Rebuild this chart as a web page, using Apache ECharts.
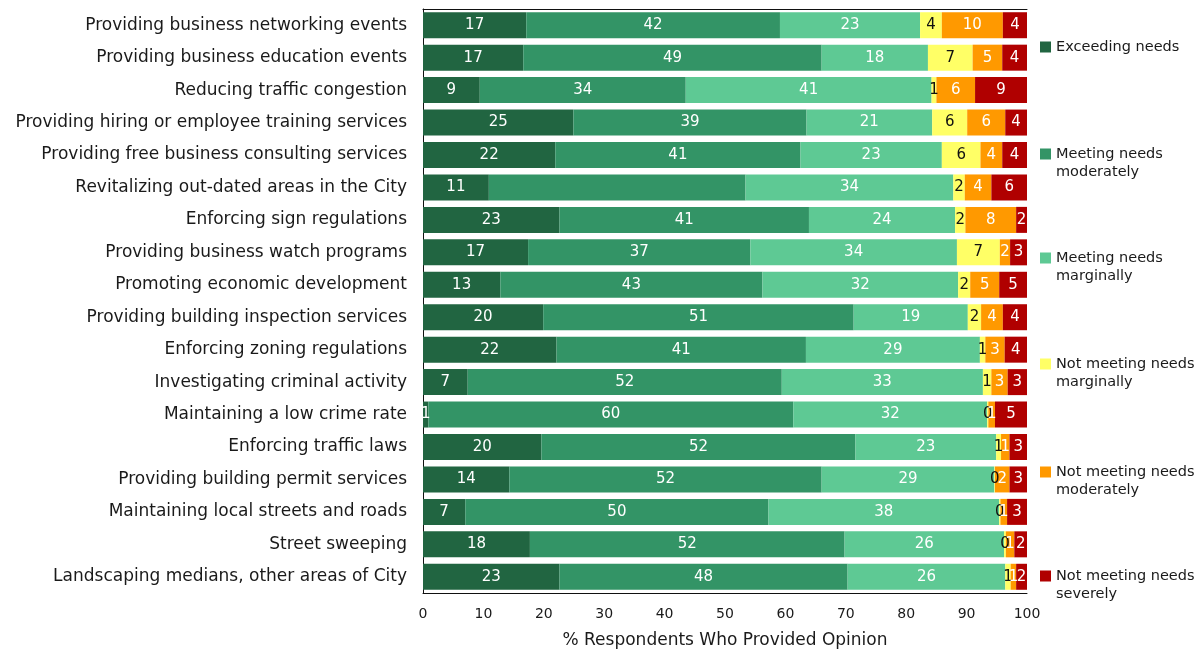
<!DOCTYPE html>
<html>
<head>
<meta charset="utf-8">
<title>City services: meeting business needs</title>
<script src="https://cdn.jsdelivr.net/npm/echarts@6/dist/echarts.min.js"></script>
<style>
  html, body { margin: 0; padding: 0; background: #ffffff; overflow: hidden; }
  #chart { width: 1203px; height: 654px; }
</style>
</head>
<body>
<div id="chart"></div>
<script>
// Services rated, listed top to bottom
const categories = [
  'Providing business networking events',
  'Providing business education events',
  'Reducing traffic congestion',
  'Providing hiring or employee training services',
  'Providing free business consulting services',
  'Revitalizing out-dated areas in the City',
  'Enforcing sign regulations',
  'Providing business watch programs',
  'Promoting economic development',
  'Providing building inspection services',
  'Enforcing zoning regulations',
  'Investigating criminal activity',
  'Maintaining a low crime rate',
  'Enforcing traffic laws',
  'Providing building permit services',
  'Maintaining local streets and roads',
  'Street sweeping',
  'Landscaping medians, other areas of City'
];

const seriesNames = [
  'Exceeding needs',
  'Meeting needs moderately',
  'Meeting needs marginally',
  'Not meeting needs marginally',
  'Not meeting needs moderately',
  'Not meeting needs severely'
];

// % of respondents who provided an opinion, per rating
const exceeding          = [17.1, 16.6,  9.4, 24.9, 21.9, 10.9, 22.6, 17.4, 12.8, 19.9, 22.1,  7.4,  0.9, 19.6, 14.3,  7.0, 17.7, 22.6];
const meetingModerately  = [42.0, 49.4, 34.1, 38.6, 40.6, 42.5, 41.3, 36.8, 43.4, 51.4, 41.3, 52.0, 60.4, 52.0, 51.7, 50.2, 52.1, 47.7];
const meetingMarginally  = [23.2, 17.6, 40.7, 20.8, 23.4, 34.4, 24.2, 34.2, 32.4, 18.9, 28.8, 33.3, 32.1, 23.3, 28.6, 38.2, 26.4, 26.1];
const notMarginally      = [ 3.6,  7.4,  0.8,  5.8,  6.4,  1.9,  1.7,  7.1,  2.0,  2.2,  0.9,  1.4,  0.2,  0.8,  0.1,  0.2,  0.3,  0.9];
const notModerately      = [10.1,  4.9,  6.4,  6.3,  3.6,  4.4,  8.4,  1.7,  4.8,  3.6,  3.2,  2.7,  1.1,  1.4,  2.4,  1.1,  1.4,  0.9];
const notSeverely        = [ 4.0,  4.1,  8.6,  3.6,  4.1,  5.9,  1.8,  2.8,  4.6,  4.0,  3.7,  3.2,  5.3,  2.9,  2.9,  3.3,  2.1,  1.8];

const xTicks = [0, 10, 20, 30, 40, 50, 60, 70, 80, 90, 100];

// [categoryIndex, seriesIndex] pairs whose value label is left off
const unlabeled = [[5, 1]];

const seriesValues = [exceeding, meetingModerately, meetingMarginally, notMarginally, notModerately, notSeverely];
const colors = ['#216541', '#339466', '#5ec994', '#ffff66', '#ff9900', '#b00000'];
const labelColors = ['#ffffff', '#ffffff', '#ffffff', '#111111', '#ffffff', '#ffffff'];
const legendText = [
  'Exceeding needs',
  'Meeting needs\nmoderately',
  'Meeting needs\nmarginally',
  'Not meeting needs\nmarginally',
  'Not meeting needs\nmoderately',
  'Not meeting needs\nseverely'
];
const legendTops = [38, 145, 249, 355, 463, 567];

const FONT = '"DejaVu Sans", Verdana, sans-serif';

const series = seriesNames.map((name, s) => ({
  name: name,
  type: 'bar',
  stack: 'total',
  barWidth: 26,
  itemStyle: { color: colors[s] },
  label: {
    show: true,
    position: 'inside',
    color: labelColors[s],
    fontFamily: FONT,
    fontSize: 15,
    formatter: p => String(Math.round(p.value))
  },
  emphasis: { disabled: true },
  data: seriesValues[s].map((v, i) =>
    unlabeled.some(u => u[0] === i && u[1] === s)
      ? { value: v, label: { show: false } }
      : v
  )
}));

// One legend block per rating; wrapped names keep the swatch beside the first line
const twoLineIcon = 'path://M0,0H0.01V0.01H0Z M0,3.5H11V14.5H0Z M0,35.99H0.01V36H0Z';
const legends = seriesNames.map((name, s) => {
  const twoLines = legendText[s].indexOf('\n') >= 0;
  return {
    data: [name],
    orient: 'vertical',
    left: 1040,
    top: legendTops[s],
    padding: 0,
    icon: twoLines ? twoLineIcon : 'rect',
    itemWidth: 11,
    itemHeight: twoLines ? 36 : 11,
    selectedMode: false,
    formatter: () => legendText[s],
    textStyle: { fontFamily: FONT, fontSize: 14.5, color: '#1a1a1a', lineHeight: 18 }
  };
});

const chart = echarts.init(document.getElementById('chart'), null, { renderer: 'canvas' });
chart.setOption({
  animation: false,
  backgroundColor: '#ffffff',
  legend: legends,
  grid: { left: 423, right: 176, top: 9, bottom: 56, containLabel: false },
  xAxis: [
    {
      type: 'value',
      min: xTicks[0],
      max: xTicks[xTicks.length - 1],
      interval: xTicks[1] - xTicks[0],
      name: '% Respondents Who Provided Opinion',
      nameLocation: 'middle',
      nameGap: 39,
      nameTextStyle: { fontFamily: FONT, fontSize: 17, color: '#1a1a1a' },
      axisLine: { show: true, lineStyle: { color: '#111', width: 1 } },
      axisTick: { show: false },
      splitLine: { show: false },
      axisLabel: { fontFamily: FONT, fontSize: 14, color: '#1a1a1a', margin: 14 }
    },
    {
      type: 'value',
      position: 'top',
      min: xTicks[0],
      max: xTicks[xTicks.length - 1],
      axisLine: { show: true, lineStyle: { color: '#111', width: 1 } },
      axisTick: { show: false },
      axisLabel: { show: false },
      splitLine: { show: false }
    }
  ],
  yAxis: {
    type: 'category',
    inverse: true,
    data: categories,
    axisLine: { show: true, lineStyle: { color: '#111', width: 1 } },
    axisTick: { show: false },
    axisLabel: { fontFamily: FONT, fontSize: 17, color: '#1a1a1a', margin: 16 }
  },
  series: series
});
</script>
</body>
</html>
